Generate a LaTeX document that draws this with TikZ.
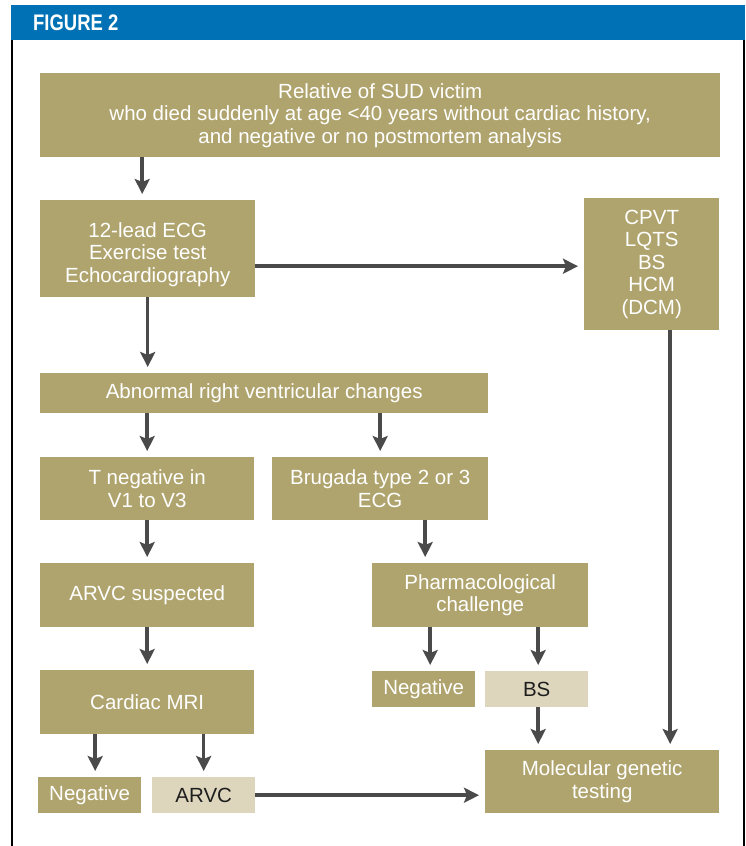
\documentclass[tikz,border=0pt]{standalone}
\usepackage{fontspec}
\setmainfont{Liberation Sans}
\newfontfamily\hdfont{Liberation Sans}[FakeStretch=0.82]
\usetikzlibrary{arrows.meta}
\definecolor{boxc}{HTML}{B0A46E}
\definecolor{lightc}{HTML}{DDD6BC}
\definecolor{hdblue}{HTML}{0071B4}
\definecolor{arrc}{HTML}{4A4A4A}
\definecolor{darktxt}{HTML}{1E1E1E}
\tikzset{
  box/.style={fill=boxc, text=white, anchor=north west, inner sep=0pt, align=center,
    font=\fontsize{20.5}{22.5}\selectfont},
  lbox/.style={box, fill=lightc, text=darktxt},
  arr/.style={draw=arrc, line width=3.5pt, -{Stealth[length=15pt,width=15pt,inset=3pt]}, shorten >=6pt},
}
\begin{document}
\begin{tikzpicture}[x=1pt,y=-1pt]
\useasboundingbox (0,0) rectangle (745,846);
% frame
\fill[hdblue] (11,5) rectangle (745,40);
\node[anchor=west, text=white, inner sep=0pt, font=\hdfont\bfseries\fontsize{22.5}{22.5}\selectfont] (hd) at (33,22.5) {FIGURE 2};
\draw[black, line width=2pt] (12,40) -- (12,846);
\draw[black, line width=2pt] (744,40) -- (744,846);
% nodes
\node[box, minimum width=680pt, minimum height=84pt] (top) at (40,73)
  {Relative of SUD victim\\ who died suddenly at age <40 years without cardiac history,\\ and negative or no postmortem analysis};
\node[box, minimum width=215pt, minimum height=97pt] (ecg) at (40,200)
  {\rule{0pt}{26pt}12-lead ECG\\ Exercise test\\ Echocardiography};
\node[box, minimum width=135pt, minimum height=132pt] (cpvt) at (584,198)
  {CPVT\\ LQTS\\ BS\\ HCM\\ (DCM)};
\node[box, minimum width=448pt, minimum height=40pt] (abn) at (40,373)
  {Abnormal right ventricular changes};
\node[box, minimum width=214pt, minimum height=63pt] (tneg) at (40,457)
  {T negative in\\ V1 to V3};
\node[box, minimum width=216pt, minimum height=63pt] (brug) at (272,457)
  {Brugada type 2 or 3\\ ECG};
\node[box, minimum width=214pt, minimum height=64pt] (arvcs) at (40,563)
  {ARVC suspected};
\node[box, minimum width=216pt, minimum height=64pt] (pharm) at (372,563)
  {Pharmacological\\ challenge};
\node[box, minimum width=214pt, minimum height=64pt] (mri) at (40,670)
  {Cardiac MRI};
\node[box, minimum width=103pt, minimum height=36pt] (neg2) at (372,671) {Negative};
\node[lbox, minimum width=103pt, minimum height=36pt] (bs) at (485,671) {BS};
\node[box, minimum width=103pt, minimum height=36pt] (neg1) at (38,777) {Negative};
\node[lbox, minimum width=103pt, minimum height=36pt] (arvc) at (152,777) {ARVC};
\node[box, minimum width=234pt, minimum height=63pt] (mol) at (485,750)
  {Molecular genetic\\ testing};
% arrows
\draw[arr] ([xshift=-5.5pt]top.south -| ecg.north) -- ([xshift=-5.5pt]ecg.north);
\draw[arr] (ecg.south) -- (ecg.south |- abn.north);
\draw[arr] ([yshift=-2pt]ecg.east |- cpvt.west) -- ([yshift=-2pt]cpvt.west);
\draw[arr] (abn.south -| tneg.north) -- (tneg.north);
\draw[arr] (abn.south -| brug.north) -- (brug.north);
\draw[arr] (tneg.south) -- (arvcs.north);
\draw[arr] ([xshift=-55pt]brug.south -| pharm.north) -- ([xshift=-55pt]pharm.north);
\draw[arr] (arvcs.south) -- (mri.north);
\draw[arr] ([xshift=5.5pt]mri.south -| neg1.north) -- ([xshift=5.5pt]neg1.north);
\draw[arr] (mri.south -| arvc.north) -- (arvc.north);
\draw[arr] ([xshift=6.5pt]pharm.south -| neg2.north) -- ([xshift=6.5pt]neg2.north);
\draw[arr] ([xshift=1.5pt]pharm.south -| bs.north) -- ([xshift=1.5pt]bs.north);
\draw[arr] ([xshift=1.5pt]bs.south) -- ([xshift=1.5pt]bs.south |- mol.north);
\draw[arr] ([xshift=18.5pt]cpvt.south) -- ([xshift=18.5pt]cpvt.south |- mol.north);
\draw[arr] (arvc.east) -- (arvc.east -| mol.west);
\end{tikzpicture}
\end{document}
